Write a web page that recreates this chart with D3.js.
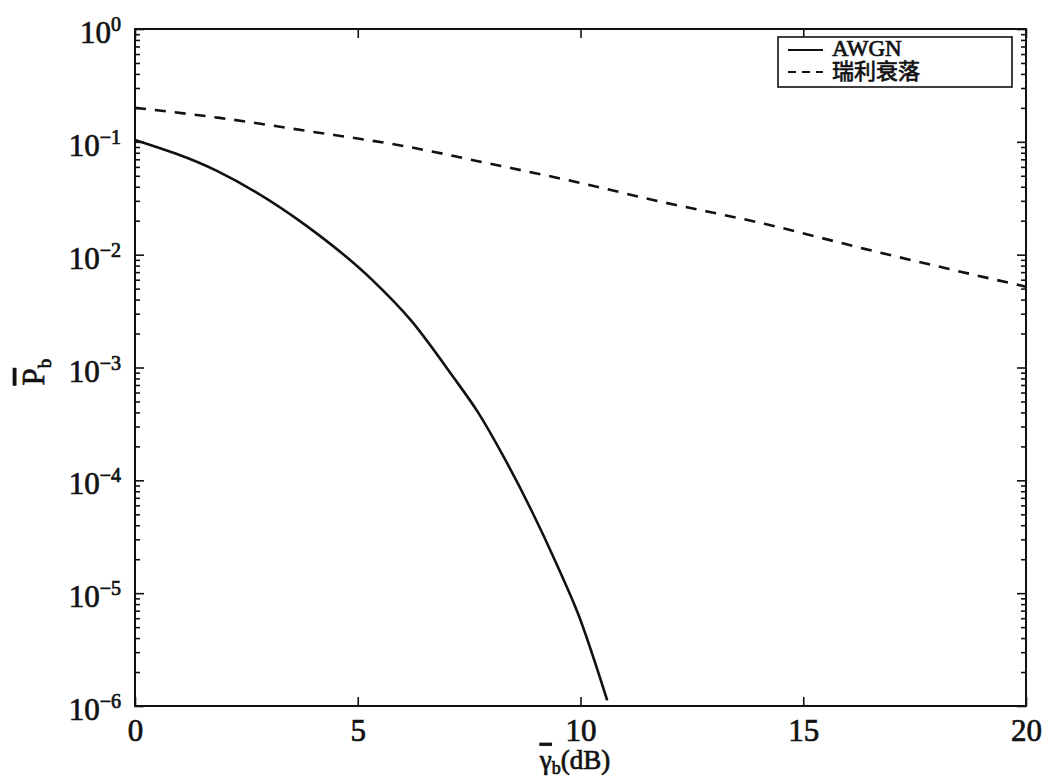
<!DOCTYPE html>
<html>
<head>
<meta charset="utf-8">
<script src="https://cdn.jsdelivr.net/npm/d3@7"></script>
<style>
  html, body { margin: 0; padding: 0; background: #fff; }
  svg { display: block; }
  text { font-family: "Liberation Serif", "Times New Roman", "Noto Sans CJK SC", serif; font-weight: normal; fill: #111; stroke: #111; stroke-width: 0.7px; }
</style>
</head>
<body>
<svg id="chart" width="1043" height="777"></svg>
<script>
// ---- data ----
const xTicks = [0, 5, 10, 15, 20];
const yDecades = [0, -1, -2, -3, -4, -5, -6];          // exponents of tick labels 10^k
const seriesNames = ["AWGN", "瑞利衰落"];
// AWGN (solid)
const awgnX = [0, 1.85, 3.85, 5.3, 6.2, 7.1, 7.7, 8.3, 8.9, 9.45, 9.95, 10.6];
const awgnY = [0.104, 0.055, 0.018, 0.0061, 0.0026, 0.00087, 0.0004, 0.000155, 0.000054, 0.0000186, 0.0000065, 0.00000112];
// Rayleigh fading (dashed)
const rayX = [0, 1.9, 3.85, 6.15, 8.0, 9.9, 11.75, 14.15, 16.4, 18.25, 20];
const rayY = [0.20, 0.163, 0.125, 0.090, 0.0636, 0.0441, 0.0298, 0.0187, 0.0112, 0.0075, 0.0052];

// ---- layout ----
const L = 135, R = 1026, T = 29, B = 706;
const svg = d3.select("#chart");

const x = d3.scaleLinear().domain([0, 20]).range([L, R]);
const y = d3.scaleLog().domain([1e-6, 1]).range([B, T]);

// frame
svg.append("rect").attr("x", L).attr("y", T).attr("width", R - L).attr("height", B - T)
  .attr("fill", "none").attr("stroke", "#111").attr("stroke-width", 2);

// minor y ticks
const minors = [];
for (let k = -6; k < 0; k++) for (let m = 2; m <= 9; m++) minors.push(m * Math.pow(10, k));
const majors = yDecades.map(k => Math.pow(10, k));

function styleAxis(g) {
  g.select(".domain").remove();
  g.selectAll(".tick line").attr("stroke", "#111").attr("stroke-width", 1.6);
}

svg.append("g").attr("transform", `translate(${L},0)`)
  .call(d3.axisLeft(y).tickValues(minors).tickSizeInner(-5).tickSizeOuter(0).tickFormat(() => ""))
  .call(styleAxis);
svg.append("g").attr("transform", `translate(${R},0)`)
  .call(d3.axisRight(y).tickValues(minors).tickSizeInner(-5).tickSizeOuter(0).tickFormat(() => ""))
  .call(styleAxis);
svg.append("g").attr("transform", `translate(${L},0)`)
  .call(d3.axisLeft(y).tickValues(majors).tickSizeInner(-9).tickSizeOuter(0).tickFormat(() => ""))
  .call(styleAxis);
svg.append("g").attr("transform", `translate(${R},0)`)
  .call(d3.axisRight(y).tickValues(majors).tickSizeInner(-9).tickSizeOuter(0).tickFormat(() => ""))
  .call(styleAxis);

// x axes
const xb = svg.append("g").attr("transform", `translate(0,${B})`)
  .call(d3.axisBottom(x).tickValues(xTicks).tickSizeInner(-9).tickSizeOuter(0).tickPadding(13).tickFormat(d3.format("d")))
  .call(styleAxis);
xb.selectAll("text").attr("font-size", 31).attr("font-family", null);
svg.append("g").attr("transform", `translate(0,${T})`)
  .call(d3.axisTop(x).tickValues(xTicks).tickSizeInner(-9).tickSizeOuter(0).tickFormat(() => ""))
  .call(styleAxis);

// y tick labels with superscripts
const yl = svg.append("g").selectAll("text").data(yDecades).join("text")
  .attr("x", 121).attr("y", d => y(Math.pow(10, d)) + 14)
  .attr("text-anchor", "end").attr("font-size", 31);
yl.append("tspan").text("10");
yl.append("tspan").attr("dy", -12).attr("font-size", 20)
  .text(d => d === 0 ? "0" : "\u2212" + Math.abs(d));

// curves
const line = d3.line().x(d => x(d[0])).y(d => y(d[1])).curve(d3.curveMonotoneX);
const awgn = awgnX.map((v, i) => [v, awgnY[i]]);
const ray = rayX.map((v, i) => [v, rayY[i]]);
svg.append("path").datum(awgn).attr("d", line)
  .attr("fill", "none").attr("stroke", "#111").attr("stroke-width", 2.6);
svg.append("path").datum(ray).attr("d", line)
  .attr("fill", "none").attr("stroke", "#111").attr("stroke-width", 2.6).attr("stroke-dasharray", "11,9");

// legend
const lg = svg.append("g");
lg.append("rect").attr("x", 778).attr("y", 37).attr("width", 234).attr("height", 50)
  .attr("fill", "#fff").attr("stroke", "#111").attr("stroke-width", 1.6);
const legendItems = seriesNames.map((n, i) => ({ name: n, dash: i === 1 ? "8,6" : null }));
const li = lg.selectAll("g.item").data(legendItems).join("g").attr("class", "item")
  .attr("transform", (d, i) => `translate(0,${i === 0 ? 50 : 72})`);
li.append("line").attr("x1", 788).attr("x2", 823).attr("y1", 0).attr("y2", 0)
  .attr("stroke", "#111").attr("stroke-width", 2.2).attr("stroke-dasharray", d => d.dash);
li.append("text").attr("x", 832).attr("y", (d, i) => i === 0 ? 6 : 7)
  .attr("font-size", (d, i) => i === 0 ? 23 : 22)
  .text(d => d.name);

// axis titles
const xt = svg.append("text").attr("x", 575).attr("y", 769).attr("text-anchor", "middle").attr("font-size", 27);
xt.append("tspan").style("text-decoration", "overline").text("γ");
xt.append("tspan").attr("dy", 5).attr("font-size", 18).text("b");
xt.append("tspan").attr("dy", -5).text("(dB)");

const yt = svg.append("text").attr("transform", "translate(44,372) rotate(-90)")
  .attr("text-anchor", "middle").attr("font-size", 31);
yt.append("tspan").style("text-decoration", "overline").text("P");
yt.append("tspan").attr("dy", 7).attr("font-size", 19).text("b");
</script>
</body>
</html>
